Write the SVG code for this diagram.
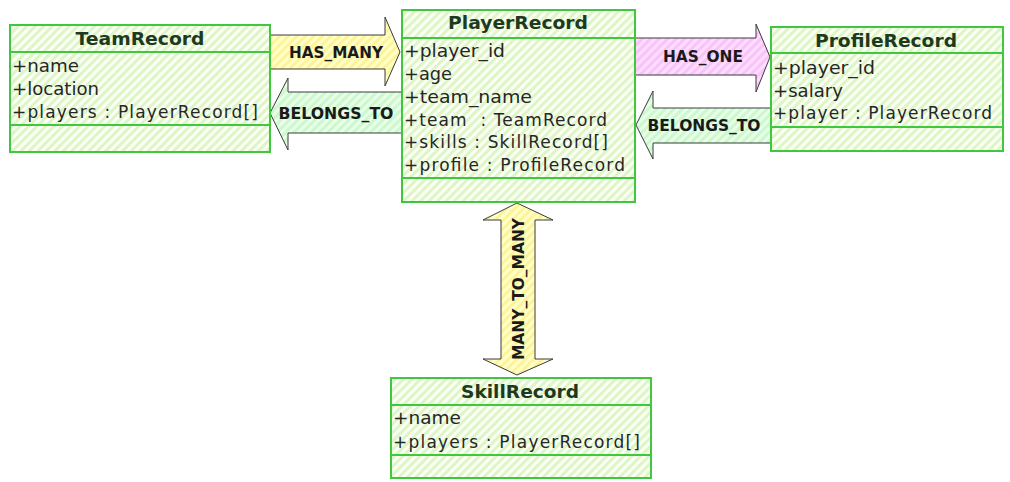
<svg xmlns="http://www.w3.org/2000/svg" width="1010" height="482" viewBox="0 0 1010 482">
  <defs>
    <pattern id="hatchBox" patternUnits="userSpaceOnUse" width="6" height="6" patternTransform="rotate(45)">
      <rect width="6" height="6" fill="#fbfff6"/>
      <rect width="3" height="6" fill="#def5c6"/>
    </pattern>
    <pattern id="hatchYellow" patternUnits="userSpaceOnUse" width="6" height="6" patternTransform="rotate(45)">
      <rect width="6" height="6" fill="#ffffc8"/>
      <rect width="3" height="6" fill="#fff39a"/>
    </pattern>
    <pattern id="hatchPink" patternUnits="userSpaceOnUse" width="6" height="6" patternTransform="rotate(45)">
      <rect width="6" height="6" fill="#ffdcff"/>
      <rect width="3" height="6" fill="#f7c4f7"/>
    </pattern>
    <pattern id="hatchGreen" patternUnits="userSpaceOnUse" width="6" height="6" patternTransform="rotate(45)">
      <rect width="6" height="6" fill="#e8ffe8"/>
      <rect width="3" height="6" fill="#cdf7cd"/>
    </pattern>
  </defs>
  <style>
    .box { fill: url(#hatchBox); stroke: #3fc83f; stroke-width: 2; }
    .sep { stroke: #3fc83f; stroke-width: 2; }
    .title { font-family: "DejaVu Sans", Verdana, sans-serif; font-weight: bold; font-size: 18px; fill: #1e3a1e; text-anchor: middle; }
    .attr { font-family: "DejaVu Sans", Verdana, sans-serif; font-size: 17px; fill: #262626; white-space: pre; }
    .arrow { stroke: #3a3a3a; stroke-width: 1; }
    .lbl { font-family: "DejaVu Sans", Verdana, sans-serif; font-weight: bold; font-size: 15px; fill: #1a1a1a; text-anchor: middle; }
  </style>

  <g id="connectors">
    <g id="has-many">
      <polygon class="arrow" fill="url(#hatchYellow)" points="270,35 385,35 385,17 400,52 385,86 385,69 270,69"/>
      <text class="lbl" x="336" y="58" textLength="94" lengthAdjust="spacingAndGlyphs">HAS_MANY</text>
    </g>
    <g id="belongs-to-team">
      <polygon class="arrow" fill="url(#hatchGreen)" points="402,92 288,92 288,78 270,113 288,150 288,133 402,133"/>
      <text class="lbl" x="336" y="119" textLength="115" lengthAdjust="spacingAndGlyphs">BELONGS_TO</text>
    </g>
    <g id="has-one">
      <polygon class="arrow" fill="url(#hatchPink)" points="635,38 756,38 756,24 770,57 756,92 756,75 635,75"/>
      <text class="lbl" x="703" y="62" textLength="80" lengthAdjust="spacingAndGlyphs">HAS_ONE</text>
    </g>
    <g id="belongs-to-player">
      <polygon class="arrow" fill="url(#hatchGreen)" points="771,108 653,108 653,91 636,125 653,159 653,143 771,143"/>
      <text class="lbl" x="704" y="131" textLength="113" lengthAdjust="spacingAndGlyphs">BELONGS_TO</text>
    </g>
    <g id="many-to-many">
      <polygon class="arrow" fill="url(#hatchYellow)" points="517,203 553,220 535,220 535,359 553,359 517,375 483,359 501,359 501,220 483,220"/>
      <text class="lbl" transform="translate(524,289) rotate(-90)" x="0" y="0" textLength="142" lengthAdjust="spacingAndGlyphs">MANY_TO_MANY</text>
    </g>
  </g>

  <g id="TeamRecord">
    <rect class="box" x="10" y="25" width="260" height="127"/>
    <line class="sep" x1="10" y1="52" x2="270" y2="52"/>
    <line class="sep" x1="10" y1="125" x2="270" y2="125"/>
    <text class="title" x="140" y="45" textLength="129" lengthAdjust="spacingAndGlyphs">TeamRecord</text>
    <text class="attr" x="12" y="72" textLength="67" lengthAdjust="spacingAndGlyphs">+name</text>
    <text class="attr" x="12" y="95" textLength="87" lengthAdjust="spacingAndGlyphs">+location</text>
    <text class="attr" x="12" y="118" textLength="246" lengthAdjust="spacing">+players : PlayerRecord[]</text>
  </g>

  <g id="PlayerRecord">
    <rect class="box" x="402" y="10" width="233" height="192"/>
    <line class="sep" x1="402" y1="38" x2="635" y2="38"/>
    <line class="sep" x1="402" y1="178" x2="635" y2="178"/>
    <text class="title" x="518" y="29" textLength="140" lengthAdjust="spacingAndGlyphs">PlayerRecord</text>
    <text class="attr" x="404" y="57" textLength="101" lengthAdjust="spacingAndGlyphs">+player_id</text>
    <text class="attr" x="404" y="80" textLength="48" lengthAdjust="spacingAndGlyphs">+age</text>
    <text class="attr" x="404" y="103" textLength="128" lengthAdjust="spacingAndGlyphs">+team_name</text>
    <text class="attr" x="404" y="126" textLength="203" lengthAdjust="spacing">+team  : TeamRecord</text>
    <text class="attr" x="404" y="148" textLength="204" lengthAdjust="spacing">+skills : SkillRecord[]</text>
    <text class="attr" x="404" y="171" textLength="221" lengthAdjust="spacing">+profile : ProfileRecord</text>
  </g>

  <g id="ProfileRecord">
    <rect class="box" x="771" y="27" width="232" height="124"/>
    <line class="sep" x1="771" y1="53" x2="1003" y2="53"/>
    <line class="sep" x1="771" y1="127" x2="1003" y2="127"/>
    <text class="title" x="886" y="47" textLength="142" lengthAdjust="spacingAndGlyphs">ProfileRecord</text>
    <text class="attr" x="773" y="74" textLength="102" lengthAdjust="spacingAndGlyphs">+player_id</text>
    <text class="attr" x="773" y="97" textLength="70" lengthAdjust="spacingAndGlyphs">+salary</text>
    <text class="attr" x="773" y="119" textLength="219" lengthAdjust="spacing">+player : PlayerRecord</text>
  </g>

  <g id="SkillRecord">
    <rect class="box" x="391" y="378" width="260" height="100"/>
    <line class="sep" x1="391" y1="405" x2="651" y2="405"/>
    <line class="sep" x1="391" y1="455" x2="651" y2="455"/>
    <text class="title" x="520" y="398" textLength="118" lengthAdjust="spacingAndGlyphs">SkillRecord</text>
    <text class="attr" x="393" y="424" textLength="68" lengthAdjust="spacingAndGlyphs">+name</text>
    <text class="attr" x="393" y="448" textLength="247" lengthAdjust="spacing">+players : PlayerRecord[]</text>
  </g>
</svg>
